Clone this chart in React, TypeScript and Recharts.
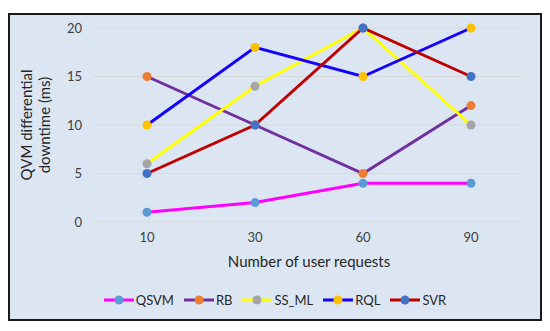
import React from 'react';
import { LineChart, Line, XAxis, YAxis, CartesianGrid } from 'recharts';

const requests = ['10', '30', '60', '90'];
const qsvm = [1, 2, 4, 4];
const rb = [15, 10, 5, 12];
const ssMl = [6, 14, 20, 10];
const rql = [10, 18, 15, 20];
const svr = [5, 10, 20, 15];
const yTicks = [0, 5, 10, 15, 20];

const series = [
  { key: 'QSVM', values: qsvm, line: '#ff00ff', dot: '#5b9bd5' },
  { key: 'RB', values: rb, line: '#7030a0', dot: '#ed7d31' },
  { key: 'SS_ML', values: ssMl, line: '#ffff00', dot: '#a5a5a5' },
  { key: 'RQL', values: rql, line: '#1400ff', dot: '#ffc000' },
  { key: 'SVR', values: svr, line: '#c00000', dot: '#4472c4' },
];

const data = requests.map((r, i) => {
  const row: Record<string, string | number> = { x: r };
  series.forEach((s) => {
    row[s.key] = s.values[i];
  });
  return row;
});

const FONT = 'Lato, "Open Sans", sans-serif';

const YTitle = (props: any) => {
  const { viewBox } = props;
  const cy = viewBox.y + viewBox.height / 2;
  return (
    <text
      transform={`translate(26, ${cy}) rotate(-90)`}
      textAnchor="middle"
      fontSize={15}
      fill="#262626"
      fontFamily={FONT}
    >
      <tspan x={0} dy={-4}>QVM differential</tspan>
      <tspan x={0} dy={18}>downtime (ms)</tspan>
    </text>
  );
};

const XTitle = (props: any) => {
  const { viewBox } = props;
  return (
    <text
      x={viewBox.x + viewBox.width / 2}
      y={viewBox.y + 39}
      textAnchor="middle"
      dominantBaseline="central"
      fontSize={15}
      fill="#262626"
      fontFamily={FONT}
    >
      Number of user requests
    </text>
  );
};

const LegendRow = () => (
  <div
    style={{
      position: 'absolute',
      top: 277,
      left: 0,
      width: '100%',
      display: 'flex',
      justifyContent: 'center',
      gap: 10,
      fontFamily: FONT,
      fontSize: 13,
      color: '#262626',
    }}
  >
    {series.map((s) => (
      <div key={s.key} style={{ display: 'flex', alignItems: 'center' }}>
        <svg width={31} height={12}>
          <line x1={0} y1={6} x2={30} y2={6} stroke={s.line} strokeWidth={3} />
          <circle cx={15} cy={6} r={4.5} fill={s.dot} />
        </svg>
        <span style={{ marginLeft: 1 }}>{s.key}</span>
      </div>
    ))}
  </div>
);

export default function App() {
  return (
    <div
      style={{
        position: 'relative',
        marginTop: 5,
        width: 530,
        height: 304,
        border: '2px solid #1a1a1a',
        boxShadow: '2px 2px 2px rgba(0,0,0,0.5)',
        background: '#dce6f2',
      }}
    >
      <LineChart
        width={530}
        height={304}
        data={data}
        margin={{ top: 13, right: 15, left: 0, bottom: 37 }}
        style={{ fontFamily: FONT }}
      >
        <CartesianGrid vertical={false} stroke="#d9d9d9" />
        <XAxis
          dataKey="x"
          axisLine={false}
          tickLine={false}
          tickSize={0}
          tickMargin={11}
          height={60}
          padding={{ left: 54, right: 54 }}
          tick={{ fill: '#404040', fontSize: 13 }}
          label={<XTitle />}
        />
        <YAxis
          domain={[0, 20]}
          ticks={yTicks}
          axisLine={false}
          tickLine={false}
          tickSize={0}
          tickMargin={11}
          width={83}
          tick={{ fill: '#404040', fontSize: 13 }}
          label={<YTitle />}
        />
        {series.map((s) => (
          <Line
            key={s.key}
            dataKey={s.key}
            stroke={s.line}
            strokeWidth={3}
            dot={{ r: 4.5, fill: s.dot, stroke: s.dot, strokeWidth: 0 }}
            activeDot={false}
            isAnimationActive={false}
          />
        ))}
      </LineChart>
      <LegendRow />
    </div>
  );
}
